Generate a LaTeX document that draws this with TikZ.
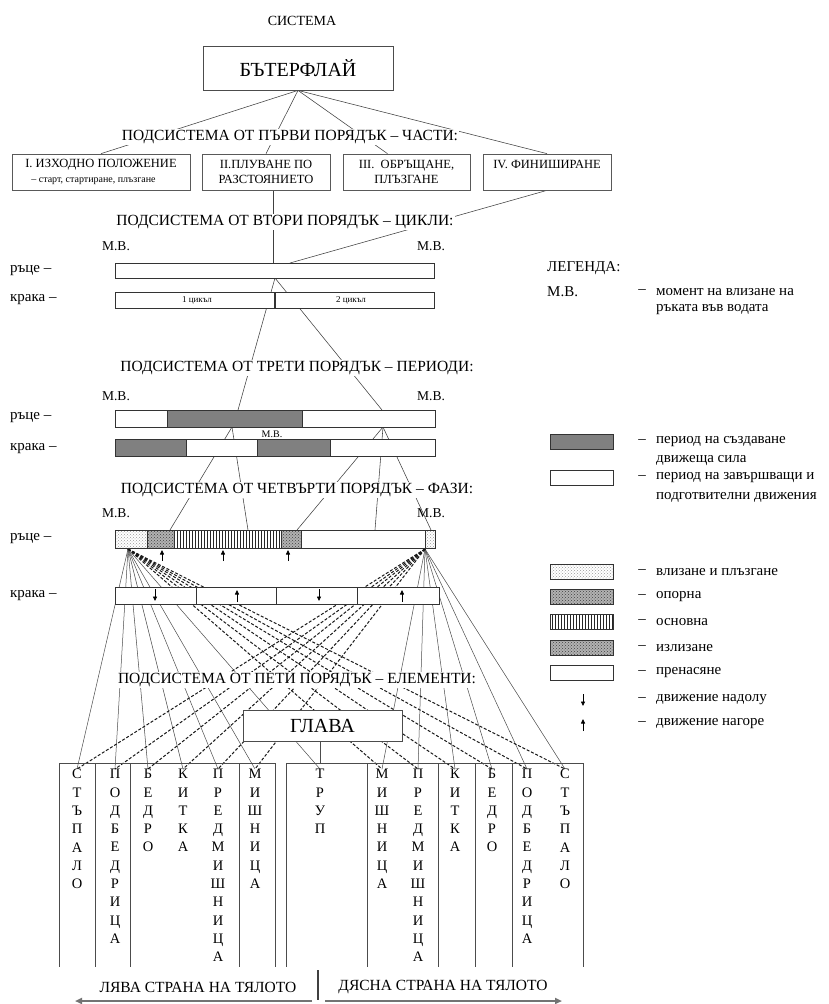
\documentclass[tikz,border=0pt]{standalone}
\usepackage{fontspec}
\setmainfont{Liberation Serif}
\usetikzlibrary{arrows.meta, positioning, calc, patterns, backgrounds}
\pgfdeclarelayer{paper}
\pgfsetlayers{paper,background,main}

\begin{document}
\begin{tikzpicture}[x=1pt, y=-1pt,
    hdr/.style={fill=white, inner sep=1pt, font=\fontsize{15.5}{18}\selectfont},
    txt/.style={inner sep=1pt, font=\fontsize{15}{18}\selectfont},
    mv/.style={inner sep=1pt, font=\fontsize{13.5}{16}\selectfont},
    partbox/.style={draw=black!65, line width=0.7pt, fill=white, minimum height=36pt, inner sep=2pt, font=\fontsize{12.5}{15}\selectfont},
    barbox/.style={draw=black!80, line width=0.8pt, fill=white},
    segdrive/.style={draw=black!80, line width=0.8pt, fill=black!50},
    segentry/.style={draw=black!80, line width=0.8pt, preaction={fill=white}, pattern=crosshatch dots, pattern color=black!40},
    seggrip/.style={draw=black!80, line width=0.8pt, preaction={fill=black!30}, pattern=crosshatch dots, pattern color=black!75},
    segmain/.style={draw=black!80, line width=0.8pt, preaction={fill=white}, pattern=vertical lines, pattern color=black!85},
    link/.style={draw=black!75, line width=0.55pt},
    fanline/.style={draw=black!70, line width=0.5pt},
    fandash/.style={draw=black!90, line width=1pt, dash pattern=on 3pt off 1.8pt},
    colline/.style={draw=black!70, line width=0.8pt},
    letters/.style={inner sep=0pt, anchor=north, align=center, font=\fontsize{14.5}{18.3}\selectfont},
    motion/.style={-{Triangle[length=4.5pt,width=4pt]}, line width=0.8pt},
    sidearrow/.style={draw=black!55, line width=1.8pt, -{Triangle[length=7pt,width=6pt]}}]
    \useasboundingbox (0,0) rectangle (828,1004);
    \begin{pgfonlayer}{paper}
        \fill[white] (0,0) rectangle (828,1004);
    \end{pgfonlayer}

    % system and first order parts
    \node[font=\fontsize{14}{16}\selectfont] (sys) at (302,21) {СИСТЕМА};
    \node[draw=black!70, line width=0.8pt, fill=white, minimum width=190pt, minimum height=44pt,
        font=\fontsize{20}{24}\selectfont] (fly) at (298,68) {БЪТЕРФЛАЙ};
    \node[hdr] (ord1) at (290,137) {ПОДСИСТЕМА ОТ ПЪРВИ ПОРЯДЪК – ЧАСТИ:};
    \node[partbox, minimum width=178pt, align=left] (part1) at (101,172)
        {I. ИЗХОДНО ПОЛОЖЕНИЕ\\ \hspace*{6pt}{\fontsize{10}{12}\selectfont – старт, стартиране, плъзгане}};
    \node[partbox, minimum width=128pt, align=center] (part2) at (266,172) {II.ПЛУВАНЕ ПО\\РАЗСТОЯНИЕТО};
    \node[partbox, minimum width=127pt, align=center] (part3) at (406.5,172) {III.\ \ ОБРЪЩАНЕ,\\ПЛЪЗГАНЕ};
    \node[partbox, minimum width=128pt, align=center] (part4) at (547,172) {IV. ФИНИШИРАНЕ\\\mbox{}};

    % order headings
    \node[hdr] (ord2) at (285,222) {ПОДСИСТЕМА ОТ ВТОРИ ПОРЯДЪК – ЦИКЛИ:};
    \node[hdr] (ord3) at (297,368) {ПОДСИСТЕМА ОТ ТРЕТИ ПОРЯДЪК – ПЕРИОДИ:};
    \node[hdr] (ord4) at (297,490) {ПОДСИСТЕМА ОТ ЧЕТВЪРТИ ПОРЯДЪК – ФАЗИ:};
    \node[hdr] (ord5) at (297,680) {ПОДСИСТЕМА ОТ ПЕТИ ПОРЯДЪК – ЕЛЕМЕНТИ:};

    % row labels and entry marks
    \foreach \y/\lbl [count=\i] in {271/ръце, 300/крака, 418/ръце, 449/крака, 539/ръце, 596/крака}
        \node[txt, anchor=west] (row\i) at (9,\y) {\lbl~–};
    \foreach \y [count=\i] in {246,396,513} {
        \node[mv] (mvl\i) at (116,\y) {М.В.};
        \node[mv] (mvr\i) at (431,\y) {М.В.};
    }
    \node[mv, font=\fontsize{10}{12}\selectfont] (mvk) at (272,434) {М.В.};

    % cycles
    \draw[barbox] (115,263) rectangle (434,278);
    \draw[barbox] (115,292) rectangle (434,308);
    \draw[black!80, line width=1.8pt] (275,292) -- (275,308);
    \node[font=\fontsize{9}{10}\selectfont] (cyc1) at (197,300) {1 цикъл};
    \node[font=\fontsize{9}{10}\selectfont] (cyc2) at (351,300) {2 цикъл};

    % periods
    \draw[barbox] (115,410) rectangle (435,427);
    \draw[segdrive] (167,410) rectangle (302,427);
    \draw[barbox] (115,439) rectangle (435,456);
    \draw[segdrive] (115,439) rectangle (186,456);
    \draw[segdrive] (257,439) rectangle (330,456);

    % phases
    \draw[barbox] (115,530) rectangle (435,548);
    \draw[segentry] (115,530) rectangle (147,548);
    \draw[seggrip] (147,530) rectangle (174,548);
    \draw[segmain] (174,530) rectangle (281,548);
    \draw[seggrip] (281,530) rectangle (301,548);
    \draw[segentry] (425,530) rectangle (435,548);
    \draw[barbox] (115,587) rectangle (439,604);
    \foreach \x in {196,276,357}
        \draw[black!80, line width=0.8pt] (\x,587) -- (\x,604);
    \foreach \x in {162,223,288}
        \draw[motion] (\x,561) -- (\x,550);
    \foreach \x in {155,319}
        \draw[motion] (\x,589) -- (\x,601);
    \foreach \x in {237,402}
        \draw[motion] (\x,602) -- (\x,590);

    % elements
    \node[draw=black!70, line width=0.8pt, fill=white, minimum width=159pt, minimum height=31pt,
        font=\fontsize{20}{24}\selectfont] (head) at (322.5,725.5) {ГЛАВА};
    \node[letters] (lfoot) at (77,769) {С\\Т\\Ъ\\П\\А\\Л\\О};
    \node[letters] (lshin) at (115,769) {П\\О\\Д\\Б\\Е\\Д\\Р\\И\\Ц\\А};
    \node[letters] (lthigh) at (148,769) {Б\\Е\\Д\\Р\\О};
    \node[letters] (lwrist) at (183,769) {К\\И\\Т\\К\\А};
    \node[letters] (lfore) at (218,769) {П\\Р\\Е\\Д\\М\\И\\Ш\\Н\\И\\Ц\\А};
    \node[letters] (lupper) at (255,769) {М\\И\\Ш\\Н\\И\\Ц\\А};
    \node[letters] (trunk) at (320,769) {Т\\Р\\У\\П};
    \node[letters] (rupper) at (382,769) {М\\И\\Ш\\Н\\И\\Ц\\А};
    \node[letters] (rfore) at (418,769) {П\\Р\\Е\\Д\\М\\И\\Ш\\Н\\И\\Ц\\А};
    \node[letters] (rwrist) at (455,769) {К\\И\\Т\\К\\А};
    \node[letters] (rthigh) at (492,769) {Б\\Е\\Д\\Р\\О};
    \node[letters] (rshin) at (527,769) {П\\О\\Д\\Б\\Е\\Д\\Р\\И\\Ц\\А};
    \node[letters] (rfoot) at (565,769) {С\\Т\\Ъ\\П\\А\\Л\\О};
    \draw[colline] (59,763) -- (275,763);
    \draw[colline] (286,763) -- (583,763);
    \foreach \x in {59,95,130,239,275,286,367,438,475,512,583}
        \draw[colline] (\x,763) -- (\x,967);
    \coordinate (trunktop) at (320,763);
    \draw[colline] (head.south -| trunktop) -- (trunktop);

    % body sides
    \node[txt, font=\fontsize{15.5}{18}\selectfont] (lside) at (198,987) {ЛЯВА СТРАНА НА ТЯЛОТО};
    \node[txt, font=\fontsize{15.5}{18}\selectfont] (rside) at (443,987) {ДЯСНА СТРАНА НА ТЯЛОТО};
    \draw[black!75, line width=1.3pt] (318,970) -- (318,1000);
    \coordinate (lstart) at (312,1001);
    \coordinate (lend) at (75,1001);
    \coordinate (rstart) at (325,1001);
    \coordinate (rend) at (562,1001);
    \draw[sidearrow] (lstart) -- (lend);
    \draw[sidearrow] (rstart) -- (rend);

    % legend
    \node[txt, anchor=west] (leg) at (546,268) {ЛЕГЕНДА:};
    \node[txt, anchor=west] (legmv) at (546,292) {М.В.};
    \foreach \y/\s [count=\i] in {442/segdrive, 478/barbox, 572/segentry, 597/seggrip, 622/segmain, 648/seggrip, 673/barbox}
        \draw[\s] (550,\y-7.5) rectangle (613,\y+7.5);
    \foreach \y [count=\i] in {292,442,478,572,597,622,648,673,700,724}
        \node[txt] (dash\i) at (642,\y) {–};
    \foreach \y/\t [count=\i] in {292/момент на влизане на, 310/ръката във водата,
        442/период на създаване, 461/движеща сила,
        478/период на завършващи и, 497/подготвителни движения,
        572/влизане и плъзгане, 597/опорна, 622/основна, 648/излизане,
        673/пренасяне, 700/движение надолу, 724/движение нагоре}
        \node[txt, anchor=west] (legt\i) at (655,\y) {\t};
    \draw[motion] (583,694) -- (583,706);
    \draw[motion] (583,731) -- (583,719);

    % connectors behind boxes and headings
    \begin{scope}[on background layer]
        \draw[link] (fly.south) -- (part1.north);
        \draw[link] (fly.south) -- (part2.north);
        \draw[link] (fly.south) -- ([xshift=-19pt]part3.north);
        \draw[link] (fly.south) -- (part4.north);
        % parts -> cycles
        \coordinate (cycin1) at (273,263);
        \coordinate (cycin2) at (290,263);
        \draw[link] (part2.south -| cycin1) -- (cycin1);
        \draw[link] (part4.south) -- (cycin2);
        % cycles -> periods
        \coordinate (cyc) at (275,278);
        \coordinate (perA) at (238,410);
        \coordinate (perB) at (382,410);
        \draw[link] (cyc) -- (perA);
        \draw[link] (cyc) -- (perB);
        % periods -> phases
        \coordinate (perL) at (232,427);
        \coordinate (perR) at (383,427);
        \coordinate (phA) at (170,530);
        \coordinate (phB) at (248,530);
        \coordinate (phC) at (297,530);
        \coordinate (phD) at (375,530);
        \coordinate (phE) at (431,530);
        \draw[link] (perL) -- (phA);
        \draw[link] (perL) -- (phB);
        \draw[link] (perR) -- (phC);
        \draw[link] (perR) -- (phD);
        \draw[link] (perR) -- (phE);
        % phases -> elements
        \coordinate (A) at (128,549);
        \coordinate (B) at (425,549);
        \foreach \t in {lfoot,lshin,lthigh,lwrist,lfore,lupper,trunk}
            \draw[fanline] (A) -- (\t.north);
        \foreach \t in {rupper,rfore,rwrist,rthigh,rshin,rfoot}
            \draw[fanline] (B) -- (\t.north);
        \foreach \t in {rupper,rfore,rwrist,rthigh,rshin,rfoot}
            \draw[fandash] (A) -- (\t.north);
        \foreach \t in {lfoot,lshin,lthigh,lwrist,lfore,lupper}
            \draw[fandash] (B) -- (\t.north);
    \end{scope}
\end{tikzpicture}
\end{document}
